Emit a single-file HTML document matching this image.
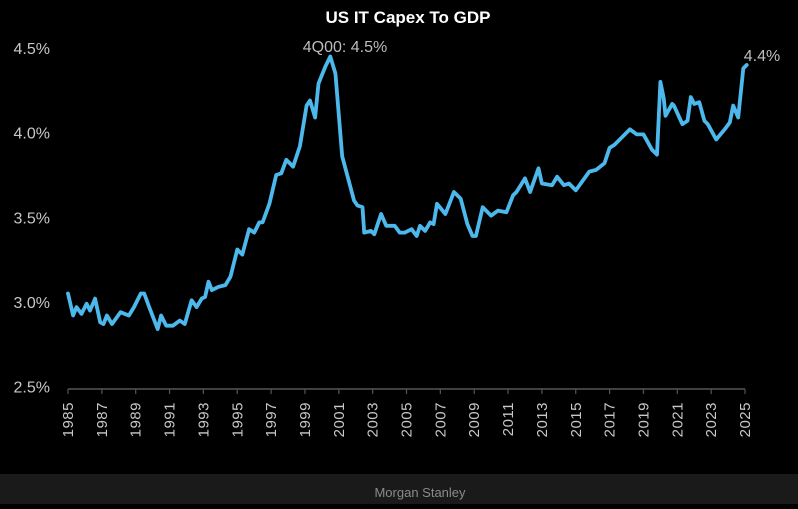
<!DOCTYPE html>
<html><head><meta charset="utf-8"><style>
html,body{margin:0;padding:0;background:#000;}
body{width:798px;height:504px;overflow:hidden;font-family:"Liberation Sans",sans-serif;}
</style></head><body>
<svg width="798" height="504" viewBox="0 0 798 504">
<rect x="0" y="0" width="798" height="504" fill="#000"/>
<text x="408" y="23" text-anchor="middle" fill="#fff" font-weight="bold" font-size="17">US IT Capex To GDP</text>
<g id="yaxis"></g>
<g id="xaxis"></g>
<g id="series"></g>
<text x="345" y="52" text-anchor="middle" fill="#bdbdbd" font-size="16">4Q00: 4.5%</text>
<text x="762" y="61" text-anchor="middle" fill="#bdbdbd" font-size="16">4.4%</text>
<rect x="0" y="474" width="798" height="30" fill="#1a1a1a"/>
<text x="420" y="497" text-anchor="middle" fill="#8a8a8a" font-size="13">Morgan Stanley</text>
</svg>
<script>
const years=[1985.0,1985.3,1985.5,1985.8,1986.1,1986.3,1986.6,1986.9,1987.1,1987.3,1987.6,1988.1,1988.6,1988.9,1989.3,1989.5,1989.8,1990.3,1990.5,1990.8,1991.2,1991.6,1991.9,1992.3,1992.6,1992.9,1993.1,1993.3,1993.5,1993.9,1994.3,1994.6,1995.0,1995.3,1995.7,1996.0,1996.3,1996.5,1996.9,1997.3,1997.6,1997.9,1998.3,1998.7,1999.1,1999.3,1999.6,1999.8,2000.2,2000.5,2000.8,2001.2,2001.9,2002.1,2002.4,2002.5,2002.9,2003.1,2003.5,2003.8,2004.3,2004.6,2004.9,2005.3,2005.6,2005.8,2006.1,2006.4,2006.6,2006.8,2007.3,2007.8,2008.2,2008.6,2008.9,2009.1,2009.5,2010.0,2010.4,2010.9,2011.3,2011.5,2012.0,2012.3,2012.8,2013.0,2013.6,2013.9,2014.3,2014.6,2015.0,2015.8,2016.2,2016.7,2017.0,2017.3,2017.9,2018.2,2018.6,2019.0,2019.5,2019.8,2020.0,2020.2,2020.3,2020.7,2020.8,2021.3,2021.6,2021.8,2022.0,2022.3,2022.6,2022.8,2023.3,2023.8,2024.1,2024.3,2024.6,2024.9,2025.1];
const values=[3.05,2.92,2.97,2.93,2.99,2.95,3.02,2.88,2.87,2.92,2.87,2.94,2.92,2.97,3.05,3.05,2.97,2.84,2.92,2.86,2.86,2.89,2.87,3.01,2.97,3.02,3.03,3.12,3.07,3.09,3.10,3.15,3.31,3.28,3.43,3.41,3.47,3.47,3.58,3.75,3.76,3.84,3.80,3.92,4.16,4.19,4.09,4.29,4.39,4.45,4.35,3.86,3.60,3.57,3.56,3.41,3.42,3.40,3.52,3.45,3.45,3.41,3.41,3.43,3.39,3.45,3.42,3.47,3.46,3.58,3.52,3.65,3.61,3.46,3.39,3.39,3.56,3.51,3.54,3.53,3.63,3.65,3.73,3.65,3.79,3.70,3.69,3.74,3.69,3.70,3.66,3.77,3.78,3.82,3.91,3.93,3.99,4.02,3.99,3.99,3.90,3.87,4.30,4.20,4.10,4.17,4.16,4.05,4.07,4.21,4.17,4.18,4.07,4.05,3.96,4.02,4.06,4.16,4.09,4.38,4.40];
const yTicks=[2.5,3.0,3.5,4.0,4.5];
const yTickLabels=["2.5%","3.0%","3.5%","4.0%","4.5%"];
const xTicks=[1985,1987,1989,1991,1993,1995,1997,1999,2001,2003,2005,2007,2009,2011,2013,2015,2017,2019,2021,2023,2025];

const NS="http://www.w3.org/2000/svg";
const X=yr=>68+(yr-1985)*(745-68)/40;
const Y=v=>302-(v-3)*169.3;
const yg=document.getElementById('yaxis'),xg=document.getElementById('xaxis'),sg=document.getElementById('series');
yTicks.forEach((t,i)=>{
  const tx=document.createElementNS(NS,'text');
  
  
  tx.setAttribute('x',50);tx.setAttribute('y',Math.min(Y(t),388)+6);
  tx.setAttribute('text-anchor','end');tx.setAttribute('fill','#c8c8c8');tx.setAttribute('font-size','16');
  tx.textContent=yTickLabels[i];yg.appendChild(tx);
});
const ax=document.createElementNS(NS,'line');


ax.setAttribute('x1',X(1985));ax.setAttribute('x2',X(2025));ax.setAttribute('y1',389);ax.setAttribute('y2',389);
ax.setAttribute('stroke','#555');ax.setAttribute('stroke-width','1.5');xg.appendChild(ax);
xTicks.forEach(t=>{
  const l=document.createElementNS(NS,'line');
  
  
  l.setAttribute('x1',X(t));l.setAttribute('x2',X(t));l.setAttribute('y1',389);l.setAttribute('y2',394);
  l.setAttribute('stroke','#555');l.setAttribute('stroke-width','1.2');xg.appendChild(l);
  const tx=document.createElementNS(NS,'text');
  
  
  tx.setAttribute('transform',`translate(${X(t)+5},402) rotate(-90)`);
  tx.setAttribute('text-anchor','end');tx.setAttribute('fill','#c8c8c8');tx.setAttribute('font-size','15');
  tx.setAttribute('letter-spacing','0.5');
  tx.textContent=t;xg.appendChild(tx);
});
const p=document.createElementNS(NS,'path');


p.setAttribute('d',years.map((yr,i)=>(i?'L':'M')+X(yr).toFixed(1)+' '+Y(values[i]).toFixed(1)).join(' '));
p.setAttribute('fill','none');p.setAttribute('stroke','#4cb8ec');p.setAttribute('stroke-width','3.8');p.setAttribute('stroke-linejoin','round');p.setAttribute('stroke-linecap','round');
sg.appendChild(p);
</script>
</body></html>
